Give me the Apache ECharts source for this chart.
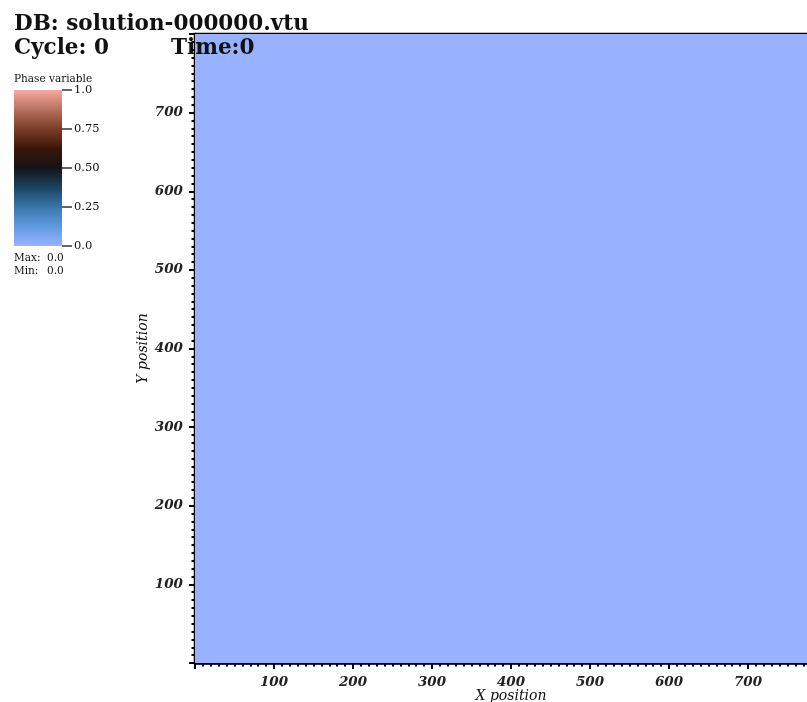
<!DOCTYPE html>
<html>
<head>
<meta charset="utf-8">
<script src="https://cdn.jsdelivr.net/npm/echarts@6/dist/echarts.min.js"></script>
<style>html,body{margin:0;padding:0;background:#fff}#c{width:807px;height:702px}</style>
</head>
<body>
<div id="c"></div>
<script>
// ---- data ----
var xEdges = [0, 800];
var yEdges = [0, 800];
var phaseValues = [[0]];           // one row of cells per y interval
var axisTicks = [100, 200, 300, 400, 500, 600, 700];
var colorbarTicks = [0, 0.25, 0.5, 0.75, 1.0];
var colorbarTickLabels = ['0.0', '0.25', '0.50', '0.75', '1.0'];
var colormap = ['#99b2ff', '#5f9ae0', '#3877a8', '#1a4460', '#121418', '#3a1508', '#7a3d28', '#b8705f', '#f6aa9d'];
var dataMax = 0.0, dataMin = 0.0;

var cells = [];
for (var j = 0; j < yEdges.length - 1; j++) {
  for (var i = 0; i < xEdges.length - 1; i++) {
    cells.push([xEdges[i], yEdges[j], xEdges[i + 1], yEdges[j + 1], phaseValues[j][i]]);
  }
}

var chart = echarts.init(document.getElementById('c'), null, {renderer: 'canvas'});
var serif = 'DejaVu Serif';
var stops = colormap.map(function (c, k) { return {offset: k / (colormap.length - 1), color: c}; });

var axisCommon = {
  type: 'value', min: 0, max: 800, interval: 100,
  axisLine: {show: true, lineStyle: {color: '#000', width: 2.5}},
  axisTick: {show: true, inside: false, length: 6, lineStyle: {color: '#000', width: 2}},
  minorTick: {show: true, splitNumber: 10, length: 3.5, lineStyle: {color: '#000', width: 2}},
  splitLine: {show: false},
  axisLabel: {
    showMinLabel: false, showMaxLabel: false, margin: 12,
    fontFamily: serif, fontWeight: 'bold', fontStyle: 'italic', fontSize: 13.5, color: '#222',
    formatter: function (v) { return axisTicks.indexOf(v) >= 0 ? String(v) : ''; }
  },
  nameLocation: 'middle',
  nameMoveOverlap: false,
  nameTextStyle: {fontFamily: serif, fontStyle: 'italic', fontSize: 14, color: '#111'}
};

var option = {
  animation: false,
  backgroundColor: '#fff',
  grid: [
    {left: 195, top: 34, width: 632, height: 629, outerBoundsMode: 'none', containLabel: false,
     show: true, borderColor: '#000', borderWidth: 2.5, backgroundColor: 'transparent'},
    {left: 14, top: 90, width: 48, height: 156, outerBoundsMode: 'none', containLabel: false}
  ],
  xAxis: [
    Object.assign({}, axisCommon, {gridIndex: 0, position: 'bottom', name: 'X position', nameGap: 26}),
    {gridIndex: 1, type: 'category', data: ['c'], show: false}
  ],
  yAxis: [
    Object.assign({}, axisCommon, {gridIndex: 0, position: 'left', name: 'Y position', nameGap: 45}),
    {
      gridIndex: 1, type: 'value', position: 'right', min: 0, max: 1, interval: 0.25,
      axisLine: {show: false},
      axisTick: {show: true, inside: false, length: 10, lineStyle: {color: '#333', width: 1.5}},
      splitLine: {show: false},
      axisLabel: {
        margin: 12, fontFamily: serif, fontSize: 11.5, color: '#111',
        formatter: function (v) {
          var k = colorbarTicks.indexOf(v);
          return k >= 0 ? colorbarTickLabels[k] : '';
        }
      }
    }
  ],
  visualMap: {
    type: 'continuous', show: false, min: 0, max: 1, dimension: 4, seriesIndex: 0,
    inRange: {color: colormap}
  },
  series: [
    {
      type: 'custom', xAxisIndex: 0, yAxisIndex: 0,
      encode: {x: [0, 2], y: [1, 3]},
      data: cells,
      clip: true,
      renderItem: function (params, api) {
        var p0 = api.coord([api.value(0), api.value(3)]);
        var p1 = api.coord([api.value(2), api.value(1)]);
        return {
          type: 'rect',
          shape: {x: p0[0], y: p0[1], width: p1[0] - p0[0], height: p1[1] - p0[1]},
          style: {fill: api.visual('color')}
        };
      }
    },
    {
      type: 'bar', xAxisIndex: 1, yAxisIndex: 1, data: [1], barWidth: '100%',
      itemStyle: {color: new echarts.graphic.LinearGradient(0, 1, 0, 0, stops)},
      silent: true
    }
  ],
  graphic: [
    {type: 'text', z: 100, style: {text: 'DB: solution-000000.vtu', x: 14, y: 24, verticalAlign: 'middle', font: 'bold 21.5px "DejaVu Serif"', fill: '#111'}},
    {type: 'text', z: 100, style: {text: 'Cycle: 0', x: 14, y: 48, verticalAlign: 'middle', font: 'bold 21.5px "DejaVu Serif"', fill: '#111'}},
    {type: 'text', z: 100, style: {text: 'Time:0', x: 171, y: 48, verticalAlign: 'middle', font: 'bold 21.5px "DejaVu Serif"', fill: '#111'}},
    {type: 'text', z: 100, style: {text: 'Phase variable', x: 14, y: 79, verticalAlign: 'middle', font: '10.5px "DejaVu Serif"', fill: '#111'}},
    {type: 'text', z: 100, style: {text: 'Max:', x: 14, y: 258, verticalAlign: 'middle', font: '10.5px "DejaVu Serif"', fill: '#111'}},
    {type: 'text', z: 100, style: {text: dataMax.toFixed(1), x: 47, y: 258, verticalAlign: 'middle', font: '10.5px "DejaVu Serif"', fill: '#111'}},
    {type: 'text', z: 100, style: {text: 'Min:', x: 14, y: 271, verticalAlign: 'middle', font: '10.5px "DejaVu Serif"', fill: '#111'}},
    {type: 'text', z: 100, style: {text: dataMin.toFixed(1), x: 47, y: 271, verticalAlign: 'middle', font: '10.5px "DejaVu Serif"', fill: '#111'}}
  ]
};
chart.setOption(option);
</script>
</body>
</html>
